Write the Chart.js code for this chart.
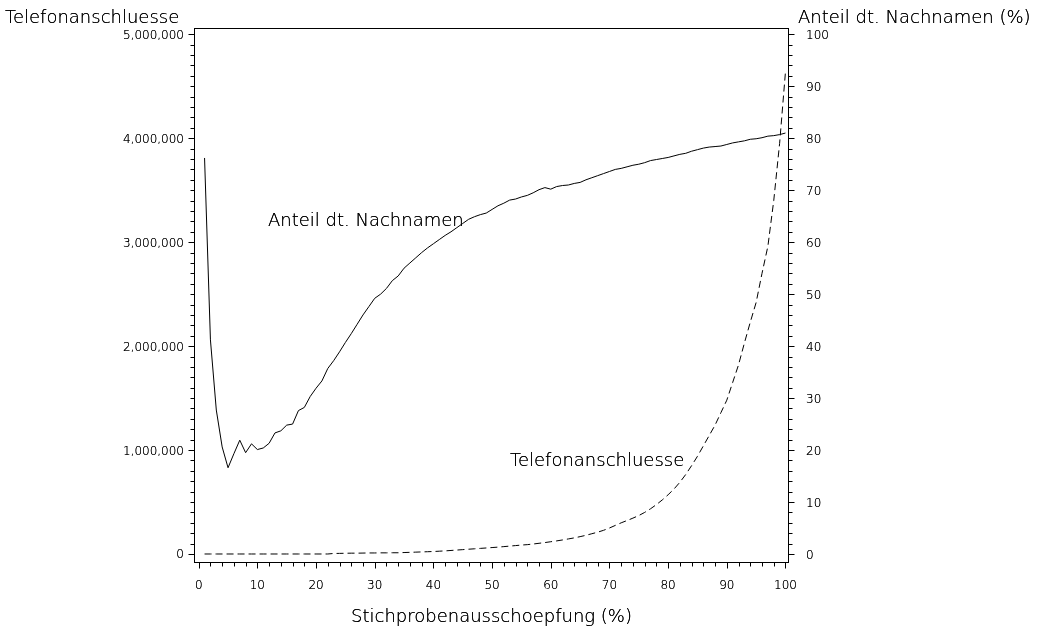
<!DOCTYPE html>
<html>
<head>
<meta charset="utf-8">
<script src="https://cdn.jsdelivr.net/npm/chart.js@4.4.1/dist/chart.umd.min.js"></script>
<style>
html, body { margin: 0; padding: 0; background: #fff; }
canvas { display: block; }
</style>
</head>
<body>
<canvas id="chart" width="1039" height="629"></canvas>
<script>
// Stichprobenausschoepfung (%)
const ausschoepfung = [
  1, 2, 3, 4, 5, 6, 7, 8, 9, 10, 11, 12, 13, 14, 15, 16, 17, 18, 19, 20,
  21, 22, 23, 24, 25, 26, 27, 28, 29, 30, 31, 32, 33, 34, 35, 36, 37, 38, 39, 40,
  41, 42, 43, 44, 45, 46, 47, 48, 49, 50, 51, 52, 53, 54, 55, 56, 57, 58, 59, 60,
  61, 62, 63, 64, 65, 66, 67, 68, 69, 70, 71, 72, 73, 74, 75, 76, 77, 78, 79, 80,
  81, 82, 83, 84, 85, 86, 87, 88, 89, 90, 91, 92, 93, 94, 95, 96, 97, 98, 99, 100
];

// Anteil dt. Nachnamen (%) - right axis
const nachnamenAnteil = [
  76.2, 41.2, 27.7, 20.6, 16.6, 19.3, 21.9, 19.5, 21.2, 20.1,
  20.4, 21.3, 23.3, 23.7, 24.8, 25.0, 27.6, 28.2, 30.3, 31.9,
  33.3, 35.7, 37.2, 38.9, 40.7, 42.4, 44.2, 46.0, 47.6, 49.2,
  50.0, 51.1, 52.6, 53.5, 55.0, 56.0, 57.0, 58.0, 58.9, 59.7,
  60.5, 61.3, 62.0, 62.8, 63.6, 64.4, 64.9, 65.3, 65.6, 66.3,
  67.0, 67.5, 68.1, 68.3, 68.7, 69.0, 69.5, 70.1, 70.5, 70.2,
  70.7, 70.9, 71.0, 71.3, 71.5, 72.0, 72.4, 72.8, 73.2, 73.6,
  74.0, 74.2, 74.5, 74.8, 75.0, 75.3, 75.7, 75.9, 76.1, 76.3,
  76.6, 76.9, 77.1, 77.5, 77.8, 78.1, 78.3, 78.4, 78.5, 78.8,
  79.1, 79.3, 79.5, 79.8, 79.9, 80.1, 80.4, 80.5, 80.7, 81.0
];

// Telefonanschluesse - left axis
const telefonanschluesse = [
  0, 0, 0, 0, 0, 0, 0, 0, 0, 0,
  0, 0, 0, 0, 0, 0, 0, 0, 0, 0,
  0, 0, 5000, 6000, 7000, 8000, 8000, 9000, 10000, 10000,
  11000, 11000, 12000, 12000, 14000, 16000, 18000, 20000, 22000, 24000,
  27000, 30000, 34000, 38000, 42000, 46000, 50000, 54000, 58000, 62000,
  66000, 71000, 76000, 81000, 86000, 90000, 96000, 103000, 110000, 118000,
  126000, 135000, 145000, 155000, 167000, 180000, 195000, 210000, 228000, 250000,
  275000, 300000, 322000, 345000, 370000, 400000, 435000, 475000, 520000, 570000,
  625000, 690000, 765000, 850000, 940000, 1040000, 1140000, 1240000, 1360000, 1480000,
  1650000, 1820000, 2030000, 2230000, 2420000, 2700000, 2960000, 3400000, 3950000, 4640000
];

const leftTicks = [0, 1000000, 2000000, 3000000, 4000000, 5000000];
const rightTicks = [0, 10, 20, 30, 40, 50, 60, 70, 80, 90, 100];
const xTicks = [0, 10, 20, 30, 40, 50, 60, 70, 80, 90, 100];

const FONT = '"DejaVu Sans", sans-serif';

function fmt(v) {
  return v.toLocaleString('en-US');
}

// thin font looks grey, so fill twice to darken it
function text(ctx, s, x, y) {
  ctx.fillText(s, x, y);
  ctx.fillText(s, x, y);
}

// SAS-style frame, tick marks, labels and titles
const sasAxes = {
  id: 'sasAxes',
  afterDraw(chart) {
    const ctx = chart.ctx;
    const a = chart.chartArea;
    const xs = chart.scales.x, yl = chart.scales.yLeft, yr = chart.scales.yRight;
    ctx.save();
    ctx.strokeStyle = '#000';
    ctx.fillStyle = '#000';
    ctx.lineWidth = 1;
    ctx.strokeRect(a.left + 0.5, a.top + 0.5, a.right - a.left - 1, a.bottom - a.top - 1);

    ctx.beginPath();
    // left axis
    for (let v = 0; v <= 5000000; v += 100000) {
      const y = Math.round(yl.getPixelForValue(v)) + 0.5;
      const len = v % 1000000 === 0 ? 6 : 4;
      ctx.moveTo(a.left + 0.5, y);
      ctx.lineTo(a.left + 0.5 - len, y);
    }
    // right axis
    for (let v = 0; v <= 100; v += 2) {
      const y = Math.round(yr.getPixelForValue(v)) + 0.5;
      const len = v % 10 === 0 ? 6 : 4;
      ctx.moveTo(a.right - 0.5, y);
      ctx.lineTo(a.right - 0.5 + len, y);
    }
    // bottom axis
    for (let v = 0; v <= 100; v += 2) {
      const x = Math.round(xs.getPixelForValue(v)) + 0.5;
      const len = v % 10 === 0 ? 6 : 4;
      ctx.moveTo(x, a.bottom - 0.5);
      ctx.lineTo(x, a.bottom - 0.5 + len);
    }
    ctx.stroke();

    ctx.font = '200 12px ' + FONT;
    ctx.textBaseline = 'alphabetic';
    ctx.textAlign = 'right';
    leftTicks.forEach(v => text(ctx, fmt(v), a.left - 10, yl.getPixelForValue(v) + 4.5));
    ctx.textAlign = 'left';
    rightTicks.forEach(v => text(ctx, String(v), a.right + 17, yr.getPixelForValue(v) + 4.5));
    ctx.textAlign = 'center';
    xTicks.forEach(v => text(ctx, String(v), xs.getPixelForValue(v), a.bottom + 26));

    ctx.font = '200 18px ' + FONT;
    ctx.textAlign = 'left';
    text(ctx, 'Telefonanschluesse', 5, 23);
    text(ctx, 'Anteil dt. Nachnamen (%)', 798, 23);
    ctx.textAlign = 'center';
    text(ctx, 'Stichprobenausschoepfung (%)', (a.left + a.right) / 2, 622);

    ctx.textAlign = 'left';
    text(ctx, 'Anteil dt. Nachnamen', xs.getPixelForValue(11.8), yr.getPixelForValue(63.1));
    text(ctx, 'Telefonanschluesse', xs.getPixelForValue(53.05), yl.getPixelForValue(842000));
    ctx.restore();
  }
};

new Chart(document.getElementById('chart').getContext('2d'), {
  type: 'line',
  data: {
    datasets: [{
      label: 'Anteil dt. Nachnamen',
      data: ausschoepfung.map((x, i) => ({ x: x, y: nachnamenAnteil[i] })),
      yAxisID: 'yRight',
      borderColor: '#000',
      borderWidth: 1,
      pointRadius: 0,
      tension: 0,
      fill: false
    }, {
      label: 'Telefonanschluesse',
      data: ausschoepfung.map((x, i) => ({ x: x, y: telefonanschluesse[i] })),
      yAxisID: 'yLeft',
      borderColor: '#000',
      borderWidth: 1,
      borderDash: [7, 4],
      pointRadius: 0,
      tension: 0,
      fill: false
    }]
  },
  options: {
    responsive: false,
    animation: false,
    events: [],
    layout: {
      padding: { left: 194, right: 250, top: 28, bottom: 66 }
    },
    plugins: {
      legend: { display: false },
      tooltip: { enabled: false }
    },
    scales: {
      x: { type: 'linear', min: -0.8, max: 100.6, display: false },
      yLeft: { type: 'linear', position: 'left', min: -86600, max: 5060600, display: false },
      yRight: { type: 'linear', position: 'right', min: -1.73, max: 101.21, display: false }
    }
  },
  plugins: [sasAxes]
});
</script>
</body>
</html>
